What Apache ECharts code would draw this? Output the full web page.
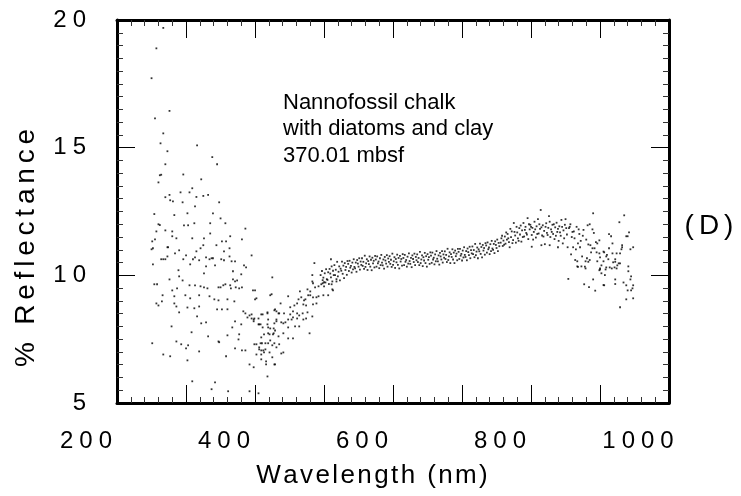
<!DOCTYPE html>
<html><head><meta charset="utf-8">
<script src="https://cdn.jsdelivr.net/npm/echarts@6/dist/echarts.min.js"></script>
<style>html,body{margin:0;padding:0;background:#fff}#c{width:741px;height:496px}</style>
</head><body><div id="c"></div>
<script>
// ---- data: [wavelength nm, % reflectance] ----
const uvPoints = [
[312,19.69],[302,18.89],[295,17.72],[321,16.44],[300,16.15],[312,15.56],[308,15.17],[361,15.09],[318,14.86],[383,14.63],[315,14.35],[390,14.35],[307,13.92],[309,13.94],[341,13.95],[305,13.64],[367,13.76],[354,13.41],[337,13.25],[350,13.25],[321,13.15],[377,13.15],[370,13.11],[360,13.07],[315,13.06],[322,12.94],[326,12.9],[340,12.86],[393,12.86],[358,12.7],[299,12.4],[328,12.36],[347,12.43],[384,12.43],[395,12.23],
[305,12.0],[307,11.97],[342,11.96],[348,11.96],[357,12.04],[380,12.04],[402,12.04],[431,11.83],[302,11.72],[315,11.76],[325,11.72],[380,11.64],[300,11.41],[296,11.33],[325,11.53],[331,11.45],[354,11.45],[371,11.45],[409,11.53],[397,11.33],[403,11.33],[426,11.41],[318,11.1],[319,11.1],[370,11.18],[389,11.18],[295,11.02],[297,11.06],[335,10.98],[366,11.06],[329,10.86],[360,10.94],[408,11.06],[400,10.94],[318,10.74],[345,10.78],[358,10.7],[408,10.74],[440,10.78],[309,10.63],[312,10.63],[315,10.63],[341,10.63],[355,10.63],[364,10.59],[374,10.7],[379,10.63],[382,10.67],[384,10.67],[396,10.63],[400,10.59],[411,10.55],[416,10.55],[297,10.43],[351,10.43],[387,10.39],[429,10.39],[432,10.31],[334,10.2],[374,10.35],[413,10.16],[371,10.08],[425,10.04],[335,9.96],[321,9.84],[340,9.8],[413,9.84],[416,9.76],[419,9.8],[299,9.65],[303,9.65],[350,9.61],[358,9.61],[402,9.65],[409,9.61],[332,9.49],[325,9.41],[366,9.57],[371,9.53],[376,9.49],[392,9.53],[395,9.53],[399,9.61],[410,9.49],[417,9.53],[422,9.49],[426,9.53],[344,9.22],[351,9.1],[311,9.22],[310,8.98],[328,9.18],[364,9.22],[386,9.06],[392,9.02],[379,9.18],[405,9.06],[415,8.98],[302,8.9],[305,8.82],[328,8.9],[331,8.78],[347,8.74],[357,8.71],[364,8.78],[335,8.55],[390,8.67],[397,8.67],[405,8.67],[428,8.59],[361,8.39],[374,8.16],[367,8.12],[416,8.2],[425,8.08],[324,8.0],[412,7.96],[353,7.77],[422,7.69],[377,7.61],[405,7.65],[421,7.49],[392,7.41],[393,7.38],[296,7.34],[331,7.41],[338,7.3],[348,7.26],[345,7.14],[416,7.14],[426,7.06],[431,7.06],[364,7.02],[312,6.9],[322,6.83],[403,6.83],[347,6.67],[354,5.85],[387,5.81],[382,5.54],[406,5.46],[437,5.46],[450,5.38]
];
const bluePoints = [
[431,8.51],[434,8.35],[437,8.43],[440,8.31],[443,8.2],[444,8.31],[450,8.31],[456,8.47],[463,8.55],[474,8.67],[479,8.51],[451,8.08],[456,7.96],[463,8.08],[473,8.12],[476,8.2],[464,7.96],[467,7.92],[458,7.69],[464,7.73],[471,7.69],[444,7.3],[447,7.3],[453,7.34],[455,7.34],[460,7.34],[451,7.18],[454,7.06],[457,7.06],[460,7.1],[464,7.34],[470,7.26],[473,7.34],[476,7.18],[480,7.3],[447,6.9],[454,6.9],[470,6.79],[454,6.71],[461,6.63],[437,6.51],[443,6.4],[473,6.51],[463,6.04],[461,6.51],[474,6.51],[458,6.98],[466,6.98],[483,6.94],[486,6.98],[451,7.1],[454,7.57],[466,7.69],[472,7.73],[467,7.45],[479,7.61],[493,7.53],[500,7.53],[450,8.08],[453,8.08],[472,7.92],[474,7.84],[486,7.73],[493,7.96],[503,8.0],[509,8.0],[524,7.73],[440,8.47],[443,8.27],[454,8.47],[464,8.27],[476,8.27],[483,8.16],[486,8.12],[489,8.16],[493,8.27],[498,8.27],[500,8.35],[506,8.31],[515,8.27],[519,8.31],[463,8.51],[473,8.63],[476,8.59],[480,8.51],[487,8.51],[496,8.47],[500,8.59],[506,8.51],[509,8.43],[514,8.51],[521,8.55],[528,8.39],[482,8.9],[496,8.75],[502,8.82],[506,8.9],[515,8.86],[519,8.82],[529,8.86],[534,8.9],[469,9.26],[493,9.18],[508,9.06],[512,9.14],[516,9.02],[518,9.06],[522,9.22],[525,9.22],[529,9.14],[534,9.14],[537,9.18],[544,9.22],[551,9.22],[558,9.41],[510,9.37],[521,9.45],[525,9.37],[532,9.53],[537,9.57],[543,9.69],[545,9.73],[556,9.65],[557,9.45],[563,9.76],[528,9.76],[470,9.92],[467,9.22],[442,9.41],[445,9.41],[445,9.06],[447,9.1],[531,10.48],[528,10.01],[529,9.69],[555,10.63]
];
const plateauPoints = [
[540,10.01],[541,9.65],[542,10.17],[543,9.81],[544,9.91],[545,9.57],[546,10.08],[547,9.72],[548,10.24],[549,9.85],
[550,9.82],[551,10.12],[552,9.66],[553,10.25],[554,10.07],[555,9.92],[556,10.35],[557,9.76],[558,10.18],[559,10.01],
[560,10.4],[561,10.01],[562,10.22],[563,9.85],[564,10.53],[565,9.96],[566,10.14],[567,10.35],[568,9.8],[569,10.26],
[570,10.18],[571,10.54],[572,10.06],[573,10.38],[574,9.89],[575,10.48],[576,10.21],[577,10.33],[578,10.02],[579,10.56],
[580,10.45],[581,10.17],[582,10.57],[583,10.3],[584,10.37],[585,10.11],[586,10.5],[587,10.23],[588,10.63],[589,10.33],
[590,10.27],[591,10.5],[592,10.14],[593,10.6],[594,10.46],[595,10.34],[596,10.67],[597,10.22],[598,10.54],[599,10.41],
[600,10.67],[601,10.37],[602,10.53],[603,10.25],[604,10.77],[605,10.33],[606,10.47],[607,10.63],[608,10.21],[609,10.56],
[610,10.44],[611,10.74],[612,10.34],[613,10.61],[614,10.2],[615,10.69],[616,10.47],[617,10.57],[618,10.31],[619,10.76],
[620,10.62],[621,10.34],[622,10.74],[623,10.47],[624,10.54],[625,10.28],[626,10.67],[627,10.4],[628,10.8],[629,10.5],
[630,10.39],[631,10.62],[632,10.26],[633,10.72],[634,10.58],[635,10.46],[636,10.79],[637,10.34],[638,10.66],[639,10.53],
[640,10.75],[641,10.45],[642,10.61],[643,10.33],[644,10.85],[645,10.41],[646,10.55],[647,10.71],[648,10.29],[649,10.64],
[650,10.51],[651,10.81],[652,10.41],[653,10.68],[654,10.27],[655,10.76],[656,10.54],[657,10.64],[658,10.38],[659,10.83],
[660,10.68],[661,10.4],[662,10.8],[663,10.53],[664,10.6],[665,10.34],[666,10.73],[667,10.46],[668,10.86],[669,10.56],
[670,10.45],[671,10.68],[672,10.32],[673,10.78],[674,10.64],[675,10.52],[676,10.85],[677,10.4],[678,10.72],[679,10.59],
[680,10.82],[681,10.52],[682,10.68],[683,10.4],[684,10.92],[685,10.48],[686,10.62],[687,10.78],[688,10.36],[689,10.71],
[690,10.58],[691,10.88],[692,10.48],[693,10.75],[694,10.34],[695,10.83],[696,10.61],[697,10.71],[698,10.45],[699,10.9],
[700,10.77],[701,10.49],[702,10.89],[703,10.62],[704,10.69],[705,10.43],[706,10.82],[707,10.55],[708,10.95],[709,10.65],
[710,10.55],[711,10.78],[712,10.42],[713,10.88],[714,10.74],[715,10.62],[716,10.95],[717,10.5],[718,10.82],[719,10.69],
[720,10.94],[721,10.64],[722,10.8],[723,10.52],[724,11.04],[725,10.6],[726,10.74],[727,10.9],[728,10.48],[729,10.83],
[730,10.72],[731,11.02],[732,10.62],[733,10.89],[734,10.48],[735,10.97],[736,10.75],[737,10.85],[738,10.59],[739,11.04],
[740,10.92],[741,10.64],[742,11.04],[743,10.77],[744,10.84],[745,10.58],[746,10.97],[747,10.7],[748,11.1],[749,10.8],
[750,10.72],[751,10.95],[752,10.59],[753,11.05],[754,10.91],[755,10.79],[756,11.12],[757,10.67],[758,10.99],[759,10.86],
[760,11.13],[761,10.83],[762,10.99],[763,10.71],[764,11.23],[765,10.79],[766,10.93],[767,11.09],[768,10.67],[769,11.02],
[770,10.94],[771,11.24],[772,10.84],[773,11.11],[774,10.7],[775,11.19],[776,10.97],[777,11.07],[778,10.81],[779,11.26],
[780,11.17],[781,10.89],[782,11.29],[783,11.02],[784,11.09],[785,10.83],[786,11.22],[787,10.95],[788,11.35],[789,11.05],
[790,11.0],[791,11.23],[792,10.87],[793,11.33],[794,11.19],[795,11.07],[796,11.4],[797,10.95],[798,11.27],[799,11.14]
];
const nirPeakPoints = [
[801,11.28],[802,11.45],[804,11.15],[805,11.36],[807,11.52],[808,11.24],[810,11.4],[811,11.62],[813,11.3],[814,11.1],[816,11.5],[817,11.72],[819,11.38],[820,12.05],[822,11.56],[823,11.28],[825,11.68],[826,11.45],[828,11.85],[829,11.6],[831,11.32],[832,11.76],[834,12.05],[835,11.52],[837,11.9],[838,11.66],[840,12.24],[841,11.42],[843,11.8],[844,11.98],[846,11.58],[847,11.86],[849,11.7],[850,12.1],[852,11.48],[853,11.92],[855,12.2],[856,11.64],[858,11.82],[859,12.56],[861,11.56],[862,11.96],[864,11.74],[865,11.22],[867,12.04],[868,11.66],[870,11.86],[871,12.32],[873,11.5],[874,11.8],[876,11.98],[877,11.62],[879,11.42],[880,11.88],[882,12.06],[883,11.7],[885,11.35],[886,11.92],[888,11.55],[889,12.17],[891,11.25],[892,11.76],[894,11.98],[895,12.2],[897,11.6],[898,11.1],[900,11.85],[899,9.86],
[846,11.12],[860,11.18],[872,11.18],[884,11.1],
[803,11.55],[806,11.2],[809,11.68],[812,11.45],[815,11.82],[818,11.26],[821,11.7],[824,11.9],[827,11.35],[830,11.95],[833,11.5],[836,11.78],[839,11.6],[842,12.0],[845,11.9],[848,11.4],[851,11.8],[854,11.62],[857,12.0],[860,11.88],[863,11.52],[866,11.9],[869,11.58],[872,12.1],[875,11.7],[878,12.0],[881,11.55],[884,11.82],[887,11.68],[890,11.9],[893,11.45]
];
const nirTailPoints = [
[901,11.9],[903,10.82],[904,11.5],[906,11.1],[907,11.72],[909,10.6],[910,11.02],[912,10.55],[912,10.35],[913,11.25],[913,10.33],[914,11.8],[916,11.1],[918,10.35],[919,10.74],[920,11.55],[922,9.65],[924,10.55],[924,10.27],[926,10.67],[927,11.96],[928,11.21],[929,9.54],[931,11.18],[932,10.9],[934,11.06],[934,11.8],[935,12.43],[935,9.84],[937,11.06],[938,9.4],[940,10.9],[941,10.55],[941,11.25],[944,10.86],[944,10.2],[944,11.37],[945,10.23],[945,10.7],[947,10.39],[950,10.55],[951,10.9],[951,9.61],[953,10.23],[954,10.31],[954,10.74],[957,10.63],[958,11.06],[958,11.61],[959,10.31],[961,11.53],[963,10.86],[963,11.25],[964,10.51],[966,10.31],[967,10.63],[967,9.84],[969,10.86],[970,10.39],[972,10.47],[973,12.08],[974,10.86],[974,8.75],[976,11.02],[977,11.18],[977,11.1],[979,9.72],[980,12.35],[983,11.53],[983,9.61],[983,9.06],[985,11.53],[985,9.41],[986,10.35],[986,10.16],[987,11.68],[989,11.02],[989,9.84],[990,9.96],[990,9.41],[992,9.49],[993,11.1],[993,9.61],[993,9.1],
[896,11.85],[902,12.0],[905,11.7],[908,11.45],[911,11.9],[915,11.62],[917,11.35],[921,11.78],[925,11.4],[930,12.0],[936,11.66],[939,11.3],
[923,10.34],[928,10.53],[930,10.6],[950,10.93],[955,10.8],[945,10.27],[947,10.08],[952,10.01],[962,10.27],[969,10.27],[967,10.53],[974,10.47],[950,9.62],[967,9.66]
];
// axis settings
const xLabelTicks = [200, 400, 600, 800, 1000];
const yTicks = [5, 10, 15, 20];
const annotationLines = ['Nannofossil chalk', 'with diatoms and clay', '370.01 mbsf'];
const xTitle = 'Wavelength (nm)';
const yTitle = '% Reflectance';
const panelTag = '(D)';

const FONT = '"Liberation Sans", Arial, Helvetica, sans-serif';
function spaced(str, key) { return String(str).split('').map(c => '{' + key + '|' + c + '}').join(''); }

const chart = echarts.init(document.getElementById('c'), null, {renderer: 'canvas'});
const boxAxisLine = {show: true, onZero: false, lineStyle: {color: '#000', width: 3}};
const majorTick = {show: true, inside: true, length: 18, lineStyle: {color: '#000', width: 1}};
const boxX = (pos) => ({
  gridIndex: 0, type: 'value', position: pos, min: 0, max: 800, interval: 100,
  axisLine: boxAxisLine, axisTick: majorTick,
  minorTick: {show: true, splitNumber: 5, length: 6, lineStyle: {color: '#333', width: 1}},
  axisLabel: {show: false}, splitLine: {show: false}, minorSplitLine: {show: false}
});
const boxY = (pos, labels) => ({
  gridIndex: 0, type: 'value', position: pos, min: yTicks[0], max: yTicks[yTicks.length - 1], interval: 5,
  axisLine: boxAxisLine, axisTick: majorTick,
  minorTick: {show: true, splitNumber: 10, length: 6, lineStyle: {color: '#333', width: 1}},
  axisLabel: labels ? {show: true, margin: 28, showMinLabel: true, showMaxLabel: true,
    formatter: v => spaced(v, 'd'),
    rich: {d: {fontSize: 24, fontFamily: FONT, color: '#000', padding: [0, 3, 0, 3], lineHeight: 24}}} : {show: false},
  splitLine: {show: false}, minorSplitLine: {show: false}
});

chart.setOption({
  animation: false,
  backgroundColor: '#fff',
  grid: [
    {left: 117, right: 72, top: 20, bottom: 93, containLabel: false, outerBoundsMode: 'none'},
    {left: 86, right: 103, top: 20, bottom: 93, containLabel: false, outerBoundsMode: 'none'}
  ],
  xAxis: [
    boxX('bottom'), boxX('top'),
    {gridIndex: 1, type: 'value', position: 'bottom', min: xLabelTicks[0], max: xLabelTicks[xLabelTicks.length - 1], interval: 200,
      axisLine: {show: false}, axisTick: {show: false}, splitLine: {show: false},
      axisLabel: {show: true, margin: 26, showMinLabel: true, showMaxLabel: true,
        formatter: v => spaced(v, 'd'),
        rich: {d: {fontSize: 24, fontFamily: FONT, color: '#000', padding: [0, 3, 0, 3], lineHeight: 24}}}}
  ],
  yAxis: [
    boxY('left', true), boxY('right', false),
    {gridIndex: 1, type: 'value', min: 5, max: 20, show: false}
  ],
  series: [{
    type: 'scatter', xAxisIndex: 2, yAxisIndex: 2, clip: false, silent: true,
    symbol: 'rect', symbolSize: 1.8, itemStyle: {color: '#000'},
    data: [].concat(uvPoints, bluePoints, plateauPoints, nirPeakPoints, nirTailPoints)
  }],
  graphic: [
    {type: 'text', x: 372, y: 476, style: {text: spaced(xTitle, 't'), align: 'center', verticalAlign: 'middle',
      rich: {t: {fontSize: 26, fontFamily: FONT, color: '#000', padding: [0, 1.2, 0, 1.2], lineHeight: 26}}}},
    {type: 'text', x: 26, y: 248, rotation: Math.PI / 2, style: {text: spaced(yTitle, 't'), align: 'center', verticalAlign: 'middle',
      rich: {t: {fontSize: 28, fontFamily: FONT, color: '#000', padding: [0, 2.4, 0, 2.4], lineHeight: 28}}}},
    {type: 'text', x: 709, y: 226, style: {text: spaced(panelTag, 'p'), align: 'center', verticalAlign: 'middle',
      rich: {p: {fontSize: 28, fontFamily: FONT, color: '#000', padding: [0, 2.5, 0, 2.5], lineHeight: 28}}}},
    {type: 'text', x: 283, y: 103, style: {text: annotationLines[0], font: '22px ' + FONT, fill: '#000', align: 'left', verticalAlign: 'middle'}},
    {type: 'text', x: 283, y: 129.3, style: {text: annotationLines[1], font: '22px ' + FONT, fill: '#000', align: 'left', verticalAlign: 'middle'}},
    {type: 'text', x: 283, y: 155.6, style: {text: annotationLines[2], font: '22px ' + FONT, fill: '#000', align: 'left', verticalAlign: 'middle'}}
  ]
});
</script></body></html>
